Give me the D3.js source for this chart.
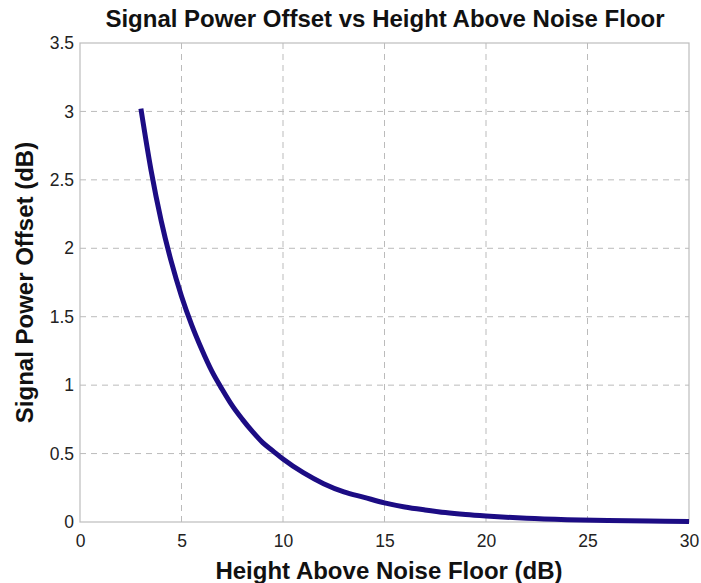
<!DOCTYPE html>
<html><head><meta charset="utf-8">
<script src="https://cdn.jsdelivr.net/npm/d3@7"></script>
<style>body{margin:0;background:#fff}</style>
</head><body>
<svg id="c" width="701" height="583"></svg>
<script>
const heights = [3,3.5,4,4.5,5,5.5,6,6.5,7,7.5,8,8.5,9,9.5,10,11,12,13,14,15,16,17,18,19,20,22,24,26,28,30];
const offsets = [3.02,2.57,2.20,1.90,1.65,1.44,1.26,1.10,0.97,0.85,0.75,0.66,0.58,0.52,0.46,0.36,0.28,0.22,0.18,0.14,0.11,0.088,0.069,0.055,0.044,0.027,0.017,0.011,0.007,0.004];
const xTicks = [0,5,10,15,20,25,30];
const yTicks = [0,0.5,1,1.5,2,2.5,3,3.5];
const title = "Signal Power Offset vs Height Above Noise Floor";
const xLabel = "Height Above Noise Floor (dB)";
const yLabel = "Signal Power Offset (dB)";

const L=80,R=689,T=43,B=522;
const svg=d3.select("#c");
const x=d3.scaleLinear().domain([0,30]).range([L,R]);
const y=d3.scaleLinear().domain([0,3.5]).range([B,T]);
const font="Liberation Sans, Arial, sans-serif";

// grid
svg.append("g").selectAll("line").data(xTicks.slice(1,-1)).join("line")
  .attr("x1",d=>x(d)).attr("x2",d=>x(d)).attr("y1",T).attr("y2",B)
  .attr("stroke","#bbb").attr("stroke-width",1).attr("stroke-dasharray","6,5");
svg.append("g").selectAll("line").data(yTicks.slice(1,-1)).join("line")
  .attr("y1",d=>y(d)).attr("y2",d=>y(d)).attr("x1",L).attr("x2",R)
  .attr("stroke","#bbb").attr("stroke-width",1).attr("stroke-dasharray","6,5");
// box
svg.append("rect").attr("x",L).attr("y",T).attr("width",R-L).attr("height",B-T)
  .attr("fill","none").attr("stroke","#bdbdbd").attr("stroke-width",1.2);

// axes
const xa=svg.append("g").attr("transform",`translate(0,${B})`)
  .call(d3.axisBottom(x).tickValues(xTicks).tickSize(0).tickPadding(13).tickFormat(d3.format("d")));
xa.select(".domain").remove();
xa.selectAll("text").attr("font-family",font).attr("font-size",17.5).attr("fill","#222");
const ya=svg.append("g").attr("transform",`translate(${L},0)`)
  .call(d3.axisLeft(y).tickValues(yTicks).tickSize(0).tickPadding(6).tickFormat(d=>String(d)));
ya.select(".domain").remove();
ya.selectAll("text").attr("font-family",font).attr("font-size",17.5).attr("fill","#222");

// line
svg.append("path").datum(heights.map((h,i)=>[h,offsets[i]]))
  .attr("d",d3.line().x(d=>x(d[0])).y(d=>y(d[1])).curve(d3.curveMonotoneX))
  .attr("fill","none").attr("stroke","#1c0c84").attr("stroke-width",5).attr("stroke-linecap","butt");

// labels
svg.append("text").attr("x",385).attr("y",27).attr("text-anchor","middle")
  .attr("font-family",font).attr("font-weight","bold").attr("font-size",24).attr("fill","#111").text(title);
svg.append("text").attr("x",389).attr("y",579).attr("text-anchor","middle")
  .attr("font-family",font).attr("font-weight","bold").attr("font-size",24).attr("fill","#111").text(xLabel);
svg.append("text").attr("transform",`translate(33,${(T+B)/2}) rotate(-90)`).attr("text-anchor","middle")
  .attr("font-family",font).attr("font-weight","bold").attr("font-size",24).attr("fill","#111").text(yLabel);
</script>
</body></html>
